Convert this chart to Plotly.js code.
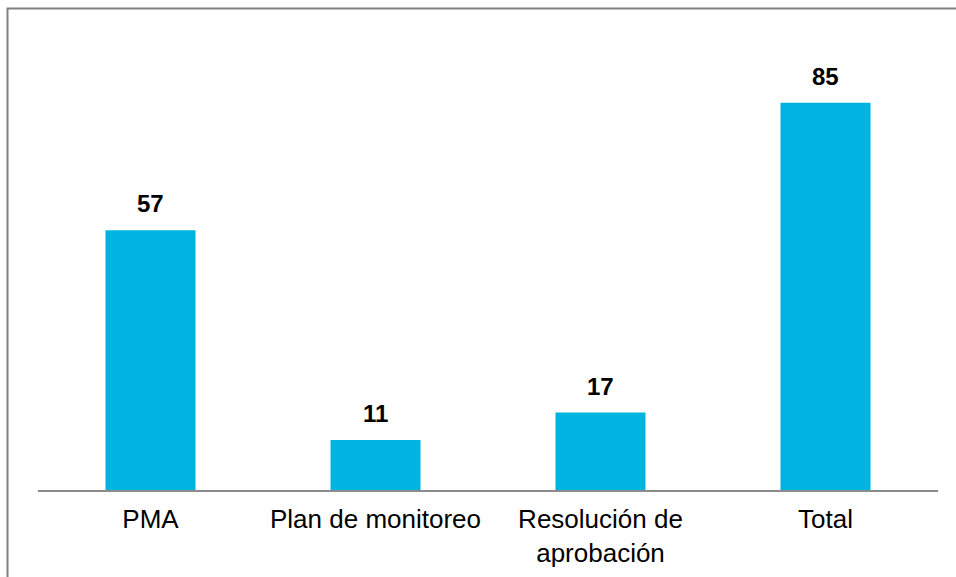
<!DOCTYPE html>
<html>
<head>
<meta charset="utf-8">
<script src="https://cdn.plot.ly/plotly-3.0.1.min.js"></script>
<style>html,body{margin:0;padding:0;background:#fff;}#chart{width:956px;height:577px;}</style>
</head>
<body>
<div id="chart"></div>
<script>
const categories = ["PMA", "Plan de monitoreo", "Resolución de<br>aprobación", "Total"];
const values = [57, 11, 17, 85];

const W = 956, H = 577;
const margin = {l: 38, r: 18, t: 80, b: 87};
const plotW = W - margin.l - margin.r;
const plotH = H - margin.t - margin.b;
const yMax = 90;

const annotations = categories.map((c, i) => ({
  x: c, y: values[i], xref: 'x', yref: 'y',
  text: '<b>' + values[i] + '</b>',
  showarrow: false, yanchor: 'bottom', yshift: 11,
  font: {family: 'Liberation Sans, Arial, sans-serif', size: 24, color: '#000'}
}));

const trace = {
  type: 'bar',
  x: categories,
  y: values,
  marker: {color: '#00B4E1'},
  hoverinfo: 'none'
};

const layout = {
  width: W, height: H,
  margin: margin,
  paper_bgcolor: '#fff', plot_bgcolor: '#fff',
  bargap: 0.6,
  showlegend: false,
  font: {family: 'Liberation Sans, Arial, sans-serif', color: '#000'},
  xaxis: {
    showline: true, linecolor: '#8c8c8c', linewidth: 2,
    ticks: '', showgrid: false, zeroline: false,
    ticklabelstandoff: 5,
    tickfont: {size: 26, color: '#000'}
  },
  yaxis: {
    range: [0, yMax], visible: false, showgrid: false, zeroline: false
  },
  annotations: annotations,
  shapes: [{
    type: 'rect', xref: 'paper', yref: 'paper',
    x0: (7.5 - margin.l) / plotW, x1: 1.2,
    y0: -0.4, y1: (margin.t + plotH - 8.5) / plotH,
    line: {color: '#808080', width: 2}, fillcolor: 'rgba(0,0,0,0)', layer: 'above'
  }]
};

Plotly.newPlot('chart', [trace], layout, {staticPlot: true, displayModeBar: false});
</script>
</body>
</html>
